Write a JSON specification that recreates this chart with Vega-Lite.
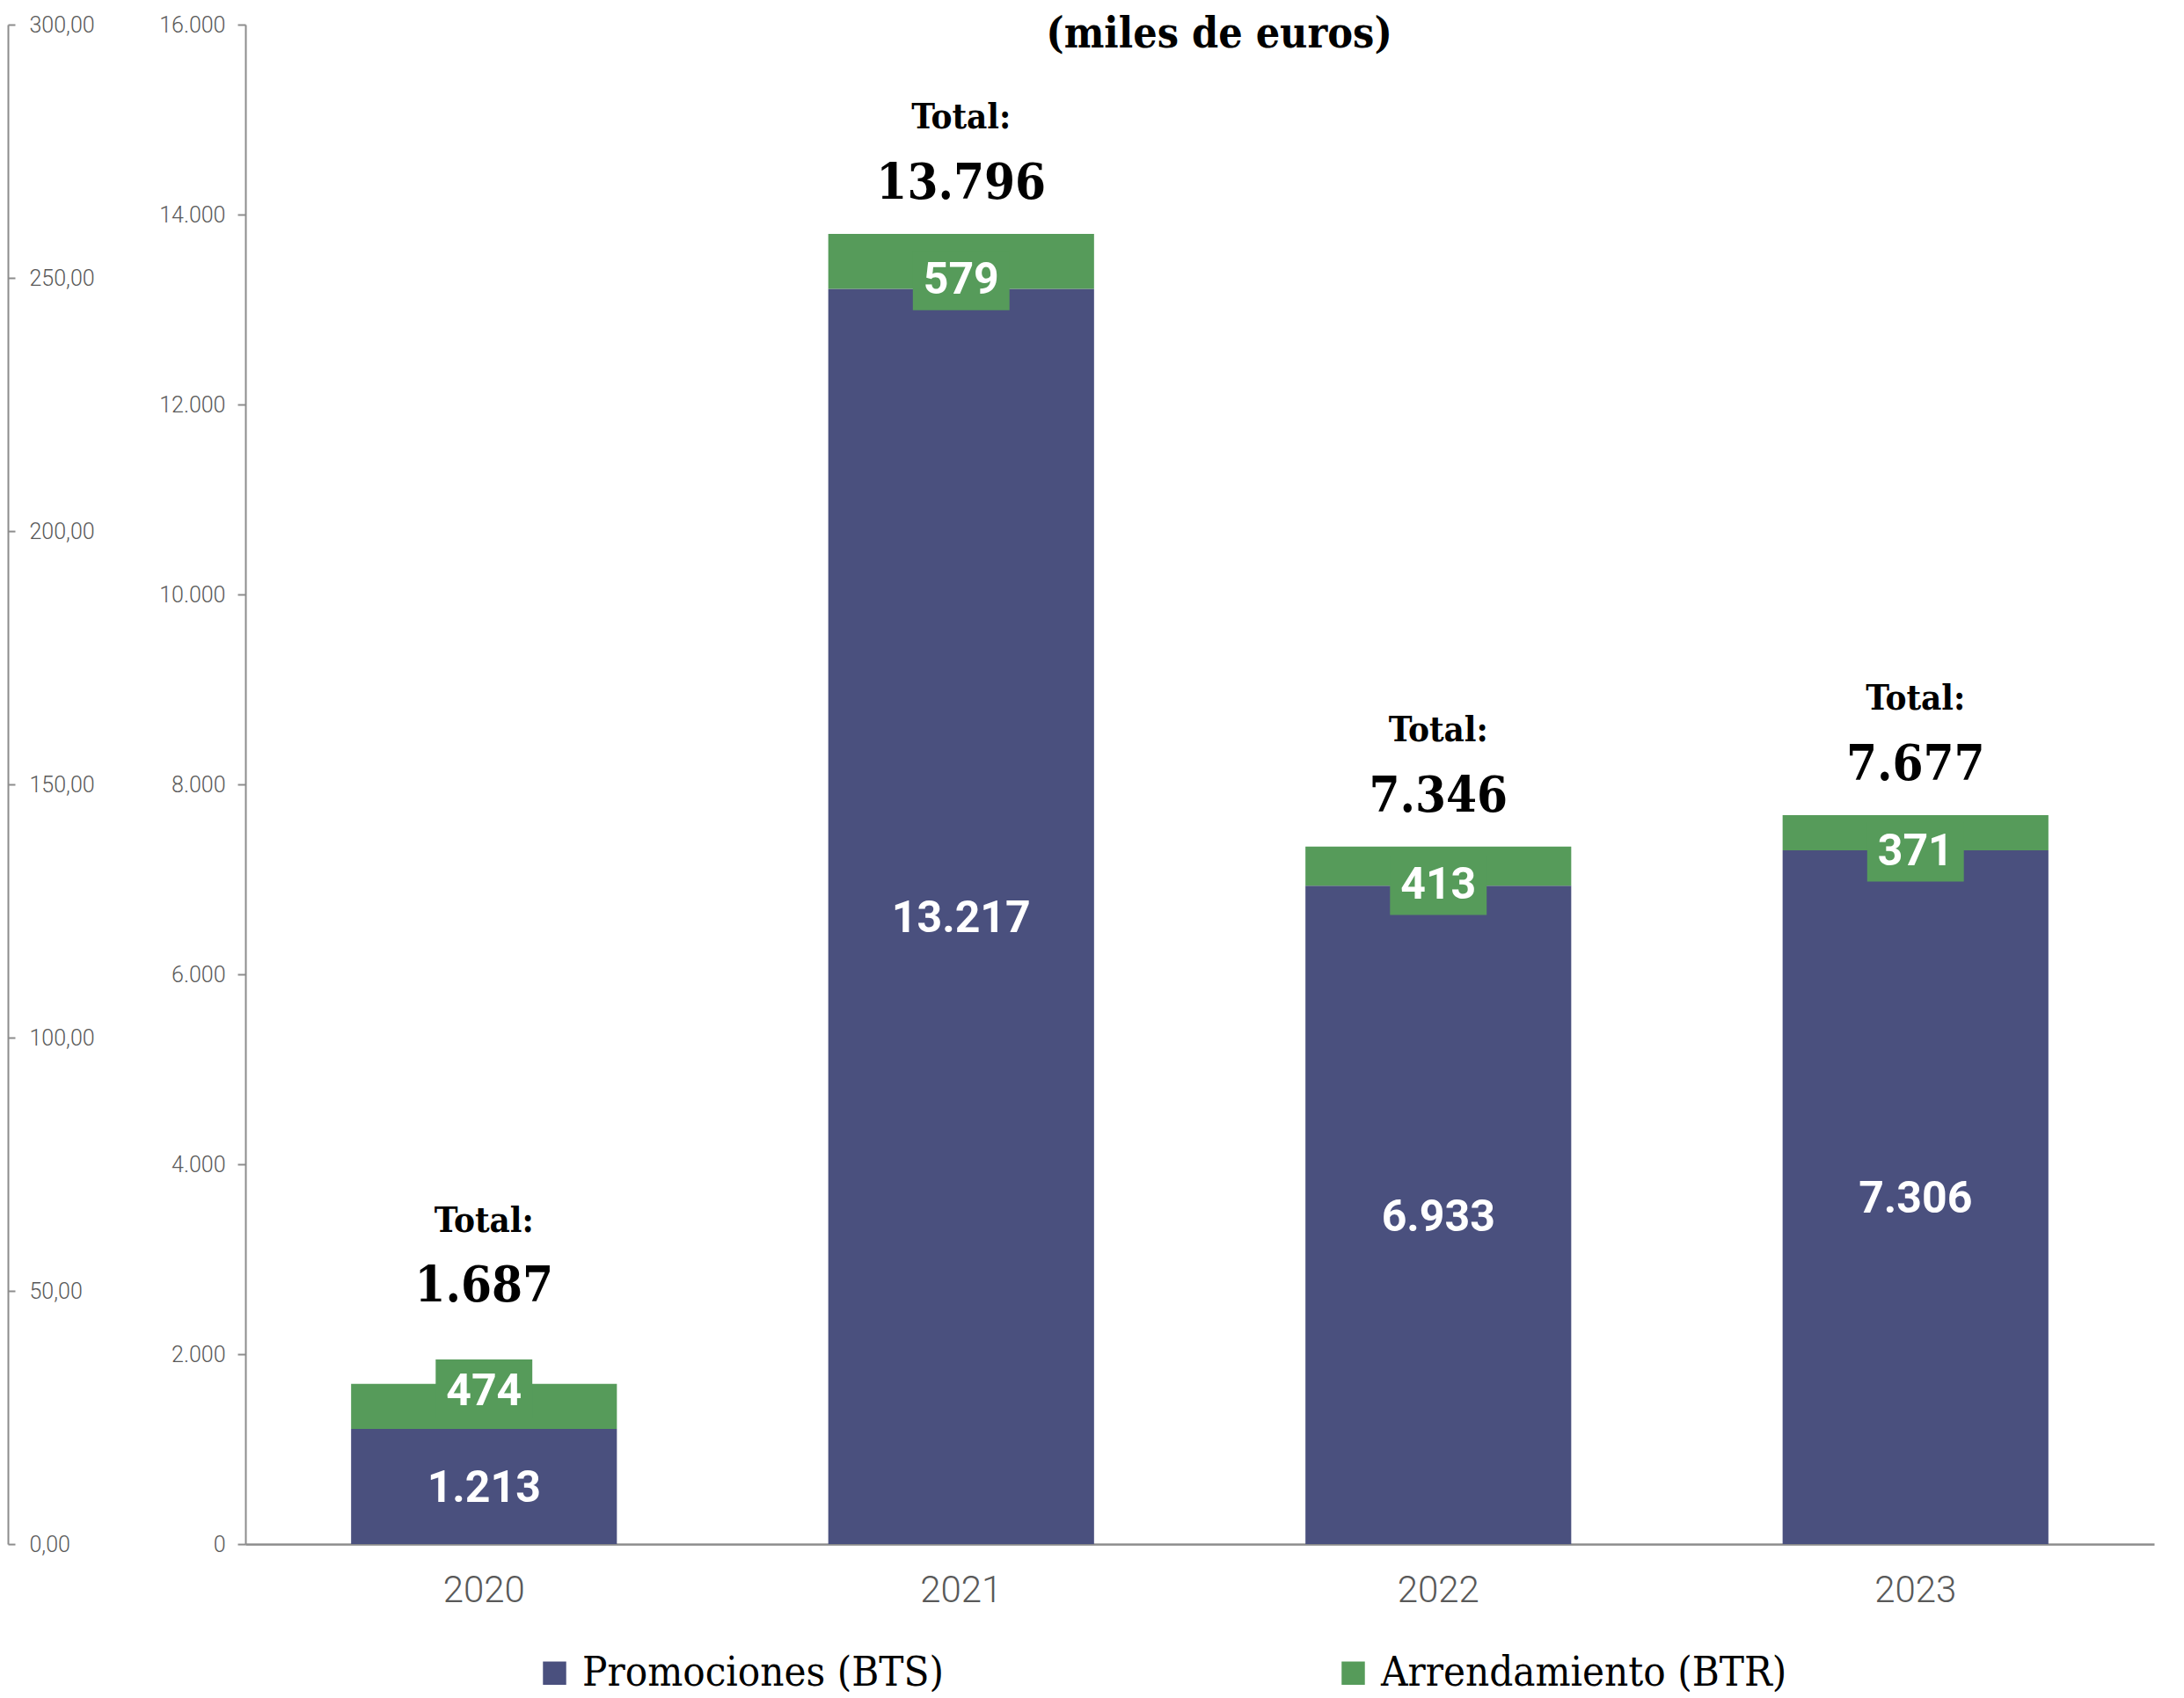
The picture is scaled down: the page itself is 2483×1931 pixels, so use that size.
{
  "$schema": "https://vega.github.io/schema/vega-lite/v6.json",
  "autosize": {"type": "none"},
  "padding": {"left": 279, "top": 28, "right": 34, "bottom": 175},
  "width": 2170,
  "height": 1728,
  "background": "white",
  "title": {
    "text": "(miles de euros)",
    "font": "DejaVu Serif Condensed, DejaVu Serif",
    "fontSize": 48,
    "fontWeight": "bold",
    "color": "#000000",
    "anchor": "middle",
    "frame": "group",
    "dx": 22,
    "dy": 52
  },
  "config": {
    "locale": {"number": {"decimal": ",", "thousands": ".", "grouping": [3], "currency": ["", " €"]}},
    "view": {"stroke": null}
  },
  "data": {
    "values": [
      {"year": "2020", "serie": "Promociones (BTS)", "value": 1213},
      {"year": "2020", "serie": "Arrendamiento (BTR)", "value": 474},
      {"year": "2021", "serie": "Promociones (BTS)", "value": 13217},
      {"year": "2021", "serie": "Arrendamiento (BTR)", "value": 579},
      {"year": "2022", "serie": "Promociones (BTS)", "value": 6933},
      {"year": "2022", "serie": "Arrendamiento (BTR)", "value": 413},
      {"year": "2023", "serie": "Promociones (BTS)", "value": 7306},
      {"year": "2023", "serie": "Arrendamiento (BTR)", "value": 371}
    ]
  },
  "encoding": {
    "x": {
      "field": "year",
      "type": "nominal",
      "scale": {"paddingInner": 0.443, "paddingOuter": 0.2215},
      "axis": {
        "title": null,
        "labelAngle": 0,
        "labelFont": "Roboto",
        "labelFontWeight": 300,
        "labelFontSize": 42,
        "labelColor": "#595959",
        "labelPadding": 32,
        "ticks": false,
        "domainColor": "#8c8c8c",
        "domainWidth": 2.5
      }
    }
  },
  "layer": [
    {
      "encoding": {
        "y": {
          "field": "value",
          "type": "quantitative",
          "stack": "zero",
          "scale": {"domain": [0, 16000], "nice": false},
          "axis": {
            "title": null,
            "values": [0, 2000, 4000, 6000, 8000, 10000, 12000, 14000, 16000],
            "format": ",d",
            "grid": false,
            "labelFont": "Roboto",
            "labelFontWeight": 300,
            "labelFontSize": 25,
            "labelColor": "#595959",
            "tickSize": 9,
            "tickColor": "#8c8c8c",
            "tickWidth": 2,
            "labelPadding": 14,
            "domainColor": "#8c8c8c",
            "domainWidth": 2
          }
        },
        "detail": {"field": "serie"},
        "order": {"field": "serie", "sort": "descending"}
      },
      "layer": [
        {
          "mark": {"type": "bar"},
          "encoding": {
            "color": {
              "field": "serie",
              "type": "nominal",
              "scale": {
                "domain": ["Promociones (BTS)", "Arrendamiento (BTR)"],
                "range": ["#4a507e", "#569b5a"]
              },
              "legend": {
                "title": null,
                "orient": "none",
                "direction": "horizontal",
                "legendX": 328,
                "legendY": 1851,
                "symbolType": "square",
                "symbolSize": 700,
                "symbolStrokeWidth": 0,
                "labelFont": "DejaVu Serif Condensed, DejaVu Serif",
                "labelFontSize": 47,
                "labelColor": "#000000",
                "labelOffset": 8,
                "labelLimit": 1000,
                "columnPadding": 442
              }
            }
          }
        },
        {
          "mark": {
            "type": "point",
            "shape": "M-1.64,-1H1.64V1H-1.64Z",
            "filled": true,
            "color": "#569b5a",
            "size": 4489,
            "yOffset": 22
          },
          "encoding": {
            "y": {"field": "value", "type": "quantitative", "stack": "zero", "bandPosition": 0.5},
            "opacity": {"condition": {"test": "datum.serie === 'Arrendamiento (BTR)' && datum.year !== '2020'", "value": 1}, "value": 0}
          }
        },
        {
          "mark": {
            "type": "point",
            "shape": "M-1.64,-1H1.64V1H-1.64Z",
            "filled": true,
            "color": "#569b5a",
            "size": 4489,
            "yOffset": -20
          },
          "encoding": {
            "y": {"field": "value", "type": "quantitative", "stack": "zero", "bandPosition": 0.5},
            "opacity": {"condition": {"test": "datum.serie === 'Arrendamiento (BTR)' && datum.year === '2020'", "value": 1}, "value": 0}
          }
        },
        {
          "mark": {
            "type": "text",
            "font": "Roboto",
            "fontWeight": "bold",
            "fontSize": 50,
            "color": "#ffffff",
            "baseline": "middle",
            "dy": 22
          },
          "encoding": {
            "y": {"field": "value", "type": "quantitative", "stack": "zero", "bandPosition": 0.5},
            "opacity": {"condition": {"test": "datum.serie === 'Arrendamiento (BTR)' && datum.year !== '2020'", "value": 1}, "value": 0},
            "text": {"field": "value", "type": "quantitative", "format": ",d"}
          }
        },
        {
          "mark": {
            "type": "text",
            "font": "Roboto",
            "fontWeight": "bold",
            "fontSize": 50,
            "color": "#ffffff",
            "baseline": "middle",
            "dy": -16
          },
          "encoding": {
            "y": {"field": "value", "type": "quantitative", "stack": "zero", "bandPosition": 0.5},
            "opacity": {"condition": {"test": "datum.serie === 'Arrendamiento (BTR)' && datum.year === '2020'", "value": 1}, "value": 0},
            "text": {"field": "value", "type": "quantitative", "format": ",d"}
          }
        },
        {
          "mark": {
            "type": "text",
            "font": "Roboto",
            "fontWeight": "bold",
            "fontSize": 50,
            "color": "#ffffff",
            "baseline": "middle",
            "dy": 3
          },
          "encoding": {
            "y": {"field": "value", "type": "quantitative", "stack": "zero", "bandPosition": 0.5},
            "opacity": {"condition": {"test": "datum.serie === 'Promociones (BTS)'", "value": 1}, "value": 0},
            "text": {"field": "value", "type": "quantitative", "format": ",d"}
          }
        }
      ]
    },
    {
      "encoding": {
        "y": {"aggregate": "sum", "field": "value", "type": "quantitative", "scale": {"domain": [0, 16000], "nice": false}, "axis": null}
      },
      "layer": [
        {
          "mark": {
            "type": "text",
            "font": "DejaVu Serif Condensed, DejaVu Serif",
            "fontWeight": "bold",
            "fontSize": 56,
            "color": "#000000",
            "baseline": "middle",
            "dy": -57
          },
          "encoding": {
            "opacity": {"condition": {"test": "datum.year !== '2020'", "value": 1}, "value": 0},
            "text": {"aggregate": "sum", "field": "value", "type": "quantitative", "format": ",d"}
          }
        },
        {
          "mark": {
            "type": "text",
            "font": "DejaVu Serif Condensed, DejaVu Serif",
            "fontWeight": "bold",
            "fontSize": 56,
            "color": "#000000",
            "baseline": "middle",
            "dy": -111
          },
          "encoding": {
            "opacity": {"condition": {"test": "datum.year === '2020'", "value": 1}, "value": 0},
            "text": {"aggregate": "sum", "field": "value", "type": "quantitative", "format": ",d"}
          }
        },
        {
          "mark": {
            "type": "text",
            "font": "DejaVu Serif Condensed, DejaVu Serif",
            "fontWeight": "bold",
            "fontSize": 40,
            "color": "#000000",
            "baseline": "middle",
            "dy": -132
          },
          "encoding": {
            "opacity": {"condition": {"test": "datum.year !== '2020'", "value": 1}, "value": 0},
            "text": {"value": "Total:"}
          }
        },
        {
          "mark": {
            "type": "text",
            "font": "DejaVu Serif Condensed, DejaVu Serif",
            "fontWeight": "bold",
            "fontSize": 40,
            "color": "#000000",
            "baseline": "middle",
            "dy": -185
          },
          "encoding": {
            "opacity": {"condition": {"test": "datum.year === '2020'", "value": 1}, "value": 0},
            "text": {"value": "Total:"}
          }
        }
      ]
    },
    {
      "mark": {"type": "rule", "opacity": 0},
      "encoding": {
        "y": {
          "datum": 0,
          "type": "quantitative",
          "scale": {"domain": [0, 300], "nice": false},
          "axis": {
            "title": null,
            "orient": "left",
            "offset": 270,
            "values": [0, 50, 100, 150, 200, 250, 300],
            "format": ",.2f",
            "grid": false,
            "labelFont": "Roboto",
            "labelFontWeight": 300,
            "labelFontSize": 25,
            "labelColor": "#595959",
            "labelAlign": "left",
            "tickSize": -8,
            "tickColor": "#8c8c8c",
            "tickWidth": 2,
            "labelPadding": -16,
            "domainColor": "#8c8c8c",
            "domainWidth": 2
          }
        }
      }
    }
  ],
  "resolve": {"scale": {"y": "independent"}}
}
